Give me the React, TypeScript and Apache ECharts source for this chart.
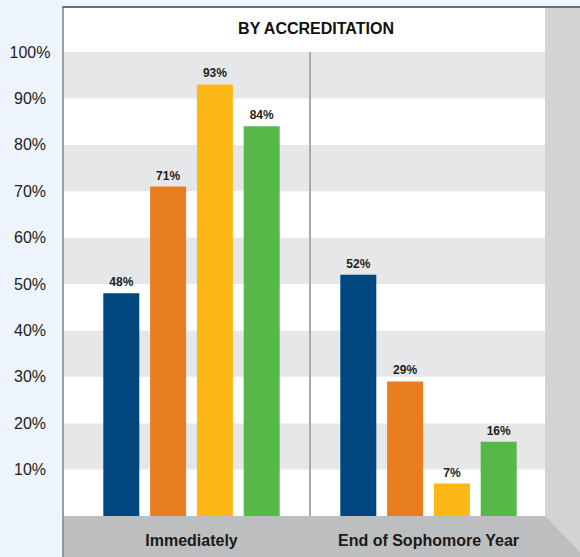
import React, { useEffect, useRef } from "react";
import * as echarts from "echarts";

const categories = ["Immediately", "End of Sophomore Year"];
const seriesNames = ["Group 1", "Group 2", "Group 3", "Group 4"];
const seriesColors = ["#00477f", "#e87e1f", "#fdb815", "#57b84a"];
const seriesValues = [
  [48, 52],
  [71, 29],
  [93, 7],
  [84, 16],
];
const yTicks = [0, 10, 20, 30, 40, 50, 60, 70, 80, 90, 100];
const dividerPoints = [
  [1, 0],
  [1, 100],
];
const title = "BY ACCREDITATION";

const FONT = '"Liberation Sans", Arial, Helvetica, sans-serif';

export default function App() {
  const ref = useRef<HTMLDivElement>(null);

  useEffect(() => {
    document.body.style.margin = "0";
    if (!ref.current) return;
    const chart = echarts.init(ref.current, undefined, { renderer: "svg" });
    const yMin = yTicks[0];
    const yMax = yTicks[yTicks.length - 1];
    const yStep = yTicks[1] - yTicks[0];

    const option: any = {
      animation: false,
      backgroundColor: "#edf4fb",
      textStyle: { fontFamily: FONT },
      grid: [
        { left: 64, right: 35, top: 52, bottom: 41 },
        { left: 73, right: 33, top: 52, bottom: 41 },
      ],
      xAxis: [
        { gridIndex: 0, type: "value", show: false, min: 0, max: 1 },
        {
          gridIndex: 1,
          type: "category",
          data: categories,
          axisLine: { show: false },
          axisTick: { show: false },
          splitLine: { show: false },
          axisLabel: {
            margin: 16,
            fontSize: 16,
            fontWeight: "bold",
            color: "#1a1a1a",
            fontFamily: FONT,
            interval: 0,
          },
        },
        { gridIndex: 1, type: "value", show: false, min: 0, max: 2 },
      ],
      yAxis: [
        {
          gridIndex: 0,
          type: "value",
          min: yMin,
          max: yMax,
          interval: yStep,
          axisLine: { show: false },
          axisTick: { show: false },
          splitLine: { show: false },
          splitArea: {
            show: true,
            areaStyle: { color: ["#ffffff", "#e6e7e8"] },
          },
          axisLabel: {
            align: "center",
            margin: 34,
            fontSize: 16,
            color: "#231f20",
            fontFamily: FONT,
            formatter: (v: number) => (v === 0 ? "" : v + "%"),
          },
        },
        {
          gridIndex: 1,
          type: "value",
          min: yMin,
          max: yMax,
          interval: yStep,
          show: false,
        },
      ],
      graphic: [
        // plot white background (incl. title band)
        {
          type: "rect",
          z: -1,
          shape: { x: 64, y: 7, width: 481, height: 509 },
          style: { fill: "#ffffff" },
          silent: true,
        },
        // right side wall
        {
          type: "rect",
          z: -1,
          shape: { x: 545, y: 7, width: 35, height: 550 },
          style: { fill: "#d1d3d4" },
          silent: true,
        },
        // floor
        {
          type: "polygon",
          z: -1,
          shape: {
            points: [
              [63, 516],
              [545, 516],
              [580, 552],
              [580, 557],
              [63, 557],
            ],
          },
          style: { fill: "#bcbec0" },
          silent: true,
        },
        // top frame line
        {
          type: "line",
          z: 100,
          shape: { x1: 62, y1: 7, x2: 580, y2: 7 },
          style: { stroke: "#6d6e71", lineWidth: 2 },
          silent: true,
        },
        // left frame line
        {
          type: "line",
          z: 100,
          shape: { x1: 63, y1: 6, x2: 63, y2: 557 },
          style: { stroke: "#808285", lineWidth: 1.5 },
          silent: true,
        },
        {
          type: "text",
          z: 100,
          x: 316,
          y: 28,
          style: {
            text: title,
            fill: "#111111",
            font: `bold 16px ${FONT}`,
            textAlign: "center",
            textVerticalAlign: "middle",
          },
          silent: true,
        },
      ],
      series: [
        ...seriesValues.map((vals, i) => ({
          name: seriesNames[i],
          type: "bar",
          xAxisIndex: 1,
          yAxisIndex: 1,
          data: vals,
          barWidth: 36,
          barGap: "30%",
          itemStyle: { color: seriesColors[i] },
          label: {
            show: true,
            position: "top",
            distance: 5,
            formatter: "{c}%",
            fontSize: 12,
            fontWeight: "bold",
            color: "#231f20",
            fontFamily: FONT,
          },
        })),
        {
          name: "divider",
          type: "line",
          xAxisIndex: 2,
          yAxisIndex: 1,
          data: dividerPoints,
          symbol: "none",
          silent: true,
          lineStyle: { color: "#a7a9ac", width: 2 },
          z: 1,
        },
      ],
    };

    chart.setOption(option);
    return () => chart.dispose();
  }, []);

  return <div ref={ref} style={{ width: 580, height: 557 }} />;
}
